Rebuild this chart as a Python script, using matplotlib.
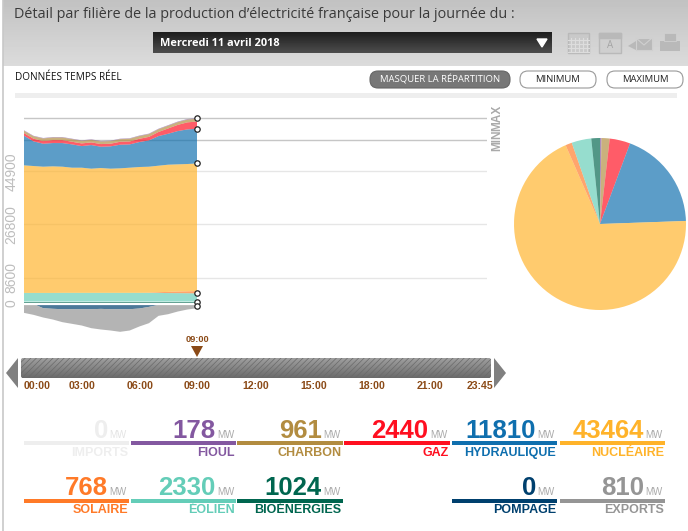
import numpy as np
import matplotlib
matplotlib.use("Agg")
import matplotlib.pyplot as plt
from matplotlib.patches import FancyBboxPatch, Polygon, Rectangle

W, H = 688, 531

hours = [0, .5, 1, 1.5, 2, 2.5, 3, 3.5, 4, 4.5, 5, 5.5, 6, 6.5, 7, 7.5, 8, 8.5, 9]
bio = [550] * 19
wind = [2950, 2950, 2950, 2950, 2980, 2980, 2980, 2980, 2980, 2980, 2980, 2980, 2980, 2950, 2950, 2900, 2880, 2850, 2804]
solar = [0, 0, 0, 0, 0, 0, 0, 0, 0, 0, 0, 0, 0, 100, 250, 400, 550, 650, 768]
nuclear = [43430, 43200, 42970, 43090, 42940, 42600, 42600, 42265, 42490, 42265, 42380, 42600, 42830, 42870, 43060, 43300, 43290, 43330, 43464]
hydro = [10080, 8380, 7820, 7930, 8040, 7930, 7360, 8040, 7250, 7590, 8040, 7930, 8500, 8950, 10080, 10540, 11330, 11780, 11810]
gas = [900, 900, 900, 1000, 1000, 900, 900, 900, 900, 900, 1000, 1000, 1100, 1200, 1400, 1800, 2100, 2400, 2440]
coal = [800, 850, 900, 900, 900, 900, 900, 900, 900, 900, 900, 950, 950, 950, 950, 950, 960, 960, 961]
fuel = [150, 150, 150, 150, 150, 150, 150, 150, 150, 150, 150, 150, 160, 160, 170, 170, 175, 178, 178]
pump = [0, 300, 1700, 1900, 2040, 2040, 2040, 2040, 1930, 2040, 2040, 2040, 1800, 1250, 570, 300, 0, 0, 0]
exports = [3290, 3670, 3170, 3650, 4420, 4980, 5550, 6460, 7020, 7250, 7700, 7250, 6130, 5550, 3730, 3440, 2830, 2150, 1700]

min_level, max_level = 55500, 63100
y_ticks = [0, 8600, 26800, 44900]
time_labels = ["00:00", "03:00", "06:00", "09:00", "12:00", "15:00", "18:00", "21:00", "23:45"]
time_x = [37, 82, 140, 197, 256, 314, 372, 430, 480]

pie_values = [178, 961, 2440, 11810, 43464, 768, 2330, 1024]

row1_names = ["IMPORTS", "FIOUL", "CHARBON", "GAZ", "HYDRAULIQUE", "NUCLÉAIRE"]
row1_values = [0, 178, 961, 2440, 11810, 43464]
row1_colors = ["#EEEEEE", "#8358A0", "#B28C40", "#FF0F20", "#0F6FAE", "#FFB32A"]
row2_names = ["SOLAIRE", "ÉOLIEN", "BIOÉNERGIES", None, "POMPAGE", "EXPORTS"]
row2_values = [768, 2330, 1024, None, 0, 810]
row2_colors = ["#FF7A28", "#64CDB8", "#00664F", None, "#00406E", "#959595"]

C = dict(fuel="#8358A0", coal="#B28C40", gas="#FF0F20", hydro="#0F6FAE", nuc="#FFB32A",
         solar="#FF7A28", wind="#64CDB8", bio="#00664F", pump="#00406E", exp="#959595")

plt.rcParams["font.family"] = ["Open Sans", "DejaVu Sans"]
plt.rcParams["hatch.linewidth"] = .5
fig = plt.figure(figsize=(W / 100, H / 100), dpi=100, facecolor="white")


def axes_px(x0, y0, x1, y1, **kw):
    return fig.add_axes([x0 / W, 1 - y1 / H, (x1 - x0) / W, (y1 - y0) / H], **kw)


ui = axes_px(0, 0, W, H)
ui.axis("off")

# header
grad = np.linspace(0.76, 0.86, 66).reshape(-1, 1)
ui.imshow(grad, extent=(3, W, 66, 0), cmap="gray", vmin=0, vmax=1, aspect="auto", zorder=0)
ui.plot([3, 3], [0, H], color="#C8C8C8", lw=1.2, zorder=1)
ui.text(14, 15, "Détail par filière de la production d’électricité française pour la journée du :",
        fontsize=10.35, color="#3A3A3A", va="center", ha="left")
grad2 = np.linspace(0.12, 0.30, 21).reshape(-1, 1)
ui.imshow(grad2, extent=(153, 552, 53, 32), cmap="gray", vmin=0, vmax=1, aspect="auto", zorder=1)
ui.text(160, 44, "Mercredi 11 avril 2018", fontsize=7.9, color="white", fontweight="bold",
        va="center", ha="left", family="Open Sans")
ui.add_patch(Polygon([[537, 39], [547, 39], [542, 47]], color="white", zorder=2))

# icons
ic = "#B9B9B9"
ui.add_patch(Rectangle((568, 33), 21, 20, fc="#C9C9C9", ec=ic, lw=1, zorder=2))
for gx in range(571, 588, 4):
    ui.plot([gx, gx], [38, 52], color="#DDDDDD", lw=.8, zorder=3)
for gy in range(40, 53, 4):
    ui.plot([568, 589], [gy, gy], color="#DDDDDD", lw=.8, zorder=3)
ui.add_patch(Rectangle((599, 33), 22, 20, fc="#CFCFCF", ec=ic, lw=1, zorder=2))
ui.add_patch(Rectangle((599, 33), 22, 5, fc=ic, ec=ic, lw=1, zorder=2))
ui.text(610, 46, "A", fontsize=7, color="#A5A5A5", ha="center", va="center", zorder=3)
ui.add_patch(Polygon([[636, 38], [652, 38], [652, 50], [636, 50]], fc=ic, ec="#D0D0D0", lw=.8, zorder=2))
ui.plot([636, 644, 652], [38, 45, 38], color="#D0D0D0", lw=.8, zorder=3)
ui.add_patch(Polygon([[628, 46], [636, 41], [636, 50]], fc=ic, zorder=2))
ui.add_patch(Rectangle((660, 41), 20, 10, fc=ic, zorder=2))
ui.add_patch(Rectangle((664, 33), 12, 8, fc=ic, ec="#D0D0D0", lw=.6, zorder=2))

# toolbar
ui.text(15, 78, "DONNÉES TEMPS RÉEL", fontsize=7.2, color="#111111", va="center", ha="left", family="Open Sans")
for x0, x1, lab, fc, tc, ec in [(370, 510, "MASQUER LA RÉPARTITION", "#777777", "white", "#666666"),
                                (520, 596, "MINIMUM", "white", "#222222", "#999999"),
                                (607, 683, "MAXIMUM", "white", "#222222", "#999999")]:
    ui.add_patch(FancyBboxPatch((x0 + 8, 79), x1 - x0 - 16, 1, boxstyle="round,pad=8", fc=fc, ec=ec,
                                lw=.8, zorder=2))
    ui.text((x0 + x1) / 2, 79.5, lab, fontsize=6.8, color=tc, ha="center", va="center", zorder=3)
ui.add_patch(Rectangle((15, 93), 662, 4.5, fc="#EEEEEE", ec="none"))

# chart
PX = 173 / 9
SC = 340.4
ax = axes_px(24, 110, 487, 335)
ax.patch.set_alpha(0)
ax.set_xlim(0, 463 / PX)
ax.set_ylim(-32 * SC + 70, 193 * SC + 70)
for s in ax.spines.values():
    s.set_visible(False)
ax.set_xticks([])
ax.set_yticks(y_ticks)
ax.set_yticklabels([str(v) for v in y_ticks], rotation=90, va="center", family="Liberation Sans",
                   fontsize=10, color="#BDBDBD")
ax.tick_params(axis="y", length=0, pad=4)
for v in y_ticks[1:]:
    ax.axhline(v, color="#E6E6E6", lw=1, zorder=0)
for v in (min_level, max_level):
    ax.axhline(v, color="#C6C6C6", lw=1, zorder=0)

top_cols = [C["bio"], C["wind"], C["solar"], C["nuc"], C["hydro"], C["gas"], C["coal"], C["fuel"]]
ax.stackplot(hours, bio, wind, solar, nuclear, hydro, gas, coal, fuel, colors=top_cols, alpha=0.68, lw=0, zorder=2)
ax.stackplot(hours, -np.array(pump), -np.array(exports), colors=[C["pump"], C["exp"]], alpha=0.7, lw=0, zorder=2)
ax.plot([0, 9], [-300, -300], color="white", lw=1.6, zorder=3)

stack = np.cumsum([bio, wind, solar, nuclear, hydro, gas, coal, fuel], axis=0)[:, -1]
handles = [stack[7], stack[4], stack[3], stack[1], 300, -1000]
ax.scatter([9] * 6, handles, s=15, fc="white", ec="#222222", lw=.9, zorder=4, clip_on=False)
ui.text(497, 140, "MIN", rotation=90, fontsize=8.6, color="#AAAAAA", fontweight="bold",
        family="Liberation Sans", ha="center", va="center")
ui.text(497, 118, "MAX", rotation=90, fontsize=8.6, color="#AAAAAA", fontweight="bold",
        family="Liberation Sans", ha="center", va="center")

# pie
pa = axes_px(600 - 86, 224 - 86, 600 + 86, 224 + 86)
pa.pie(pie_values, colors=[C[k] for k in ["fuel", "coal", "gas", "hydro", "nuc", "solar", "wind", "bio"]],
       startangle=90, counterclock=False, radius=1, wedgeprops=dict(alpha=0.68, lw=0))
pa.set_xlim(-1, 1)
pa.set_ylim(-1, 1)

# slider
brown = "#8B4A17"
sl = axes_px(21, 358, 491, 378)
sl.axis("off")
im = sl.imshow(np.linspace(.62, .42, 20).reshape(-1, 1), extent=(0, 470, 20, 0), cmap="gray", vmin=0, vmax=1, aspect="auto")
clip = FancyBboxPatch((2, 2), 466, 16, boxstyle="round,pad=2", transform=sl.transData, fc="none", ec="none")
sl.add_patch(clip)
im.set_clip_path(clip)
hp = Rectangle((0, 0), 470, 20, fc="none", ec="#6A6A6A", hatch="//////", lw=0)
sl.add_patch(hp)
hp.set_clip_path(clip)
sl.set_xlim(0, 470)
sl.set_ylim(20, 0)
ui.add_patch(Polygon([[18, 358], [6, 373], [18, 388]], fc="#808080", ec="none"))
ui.add_patch(Polygon([[494, 358], [506, 373], [494, 388]], fc="#808080", ec="none"))
ui.add_patch(Polygon([[191, 346], [203, 346], [197, 357]], fc=brown, ec="none"))
ui.text(197, 340, "09:00", fontsize=6.6, color=brown, fontweight="bold", family="Liberation Sans",
        ha="center", va="center")
for x, lab in zip(time_x, time_labels):
    ui.text(x, 386, lab, fontsize=7.6, color=brown, fontweight="bold", family="Liberation Sans",
            ha="center", va="center", zorder=3)

# figures
cols = [(24, 129), (131, 236), (237, 342.5), (344, 449.5), (452, 557), (560, 665)]


def row(names, values, colors, ybar, yval, yname):
    for (x0, x1), n, v, c in zip(cols, names, values, colors):
        if n is None:
            continue
        ui.add_patch(Rectangle((x0, ybar), x1 - x0, 4, fc=c, ec="none"))
        ui.text(x1 - 2, yval + 5, "MW", fontsize=7, color="#AAAAAA" if n != "IMPORTS" else "#E4E4E4",
                family="Liberation Sans", ha="right", va="baseline")
        ui.text(x1 - 21, yval + 5, str(v), fontsize=18.5, color=c, fontweight="bold",
                family="Liberation Sans", ha="right", va="baseline")
        ui.text(x1 - 1, yname, n, fontsize=9, color=c, fontweight="bold",
                family="Liberation Sans", ha="right", va="center")


row(row1_names, row1_values, row1_colors, 441, 433, 453)
row(row2_names, row2_values, row2_colors, 498.5, 490, 510)

ui.set_xlim(0, W)
ui.set_ylim(H, 0)
fig.savefig("out.png", dpi=100)
